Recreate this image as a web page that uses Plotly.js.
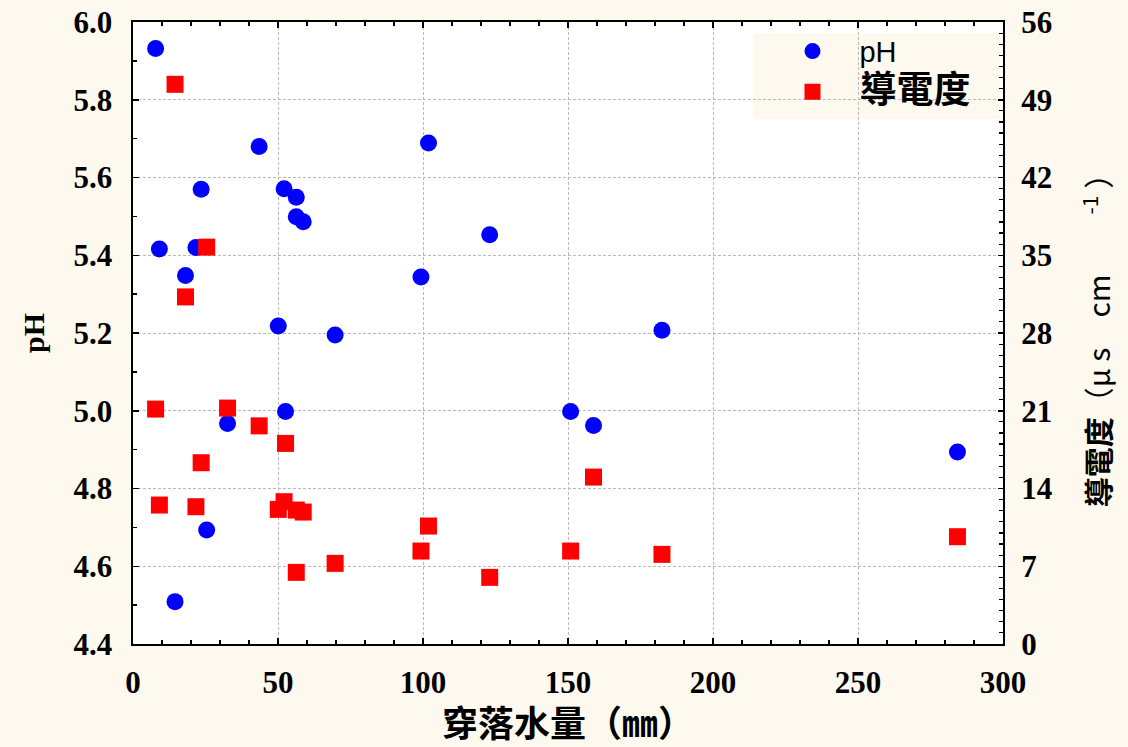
<!DOCTYPE html>
<html>
<head>
<meta charset="utf-8">
<script src="https://cdn.plot.ly/plotly-3.0.1.min.js"></script>
<style>
  html, body { margin: 0; padding: 0; background: #fdf9ef; }
  #chart { width: 1128px; height: 747px; }
</style>
</head>
<body>
<div id="chart"></div>
<script>
// Throughfall amount (mm) for each sample
const throughfall = [7.8, 9.1, 14.5, 18.1, 21.7, 23.5, 25.4, 32.6, 43.5, 50.1, 52.1, 52.6,
                     56.3, 56.3, 58.7, 69.7, 99.3, 101.9, 123.0, 150.9, 158.8, 182.4, 284.3];
// pH of each sample
const phValues = [5.932, 5.416, 4.509, 5.348, 5.420, 5.570, 4.693, 4.967, 5.680, 5.218, 5.571, 4.998,
                  5.549, 5.499, 5.486, 5.195, 5.344, 5.689, 5.453, 4.998, 4.962, 5.207, 4.894];
// Electrical conductivity (μS/cm) of each sample
const conductivity = [21.15, 12.51, 50.39, 31.25, 12.36, 16.32, 35.73, 21.24, 19.64, 12.12, 12.81, 18.06,
                      12.06, 6.45, 11.88, 7.26, 8.37, 10.62, 6.00, 8.37, 15.03, 8.07, 9.66];

const seriesNames = ['pH', '導電度'];
const xTitle = '穿落水量（㎜）';
const yTitle = 'pH';
const y2Title = '<b>導電度</b>（μ s　cm　　<sup>-1</sup> ）';

const paperBg = '#fdf9ef';
const tickFont = { family: 'Liberation Serif, Times New Roman, serif', size: 31, color: '#000', weight: 'bold' };
const cjkFont = 'Noto Sans CJK TC, Noto Sans CJK JP, sans-serif';

const traces = [
  {
    x: throughfall, y: phValues, name: seriesNames[0],
    type: 'scatter', mode: 'markers',
    marker: { symbol: 'circle', size: 17, color: '#0000ff', line: { width: 0 } },
    xaxis: 'x', yaxis: 'y'
  },
  {
    x: throughfall, y: conductivity,
    name: '<span style="font-family:Noto Sans CJK TC;font-weight:bold;font-size:37px">' + seriesNames[1] + '</span>',
    type: 'scatter', mode: 'markers',
    marker: { symbol: 'square', size: 17, color: '#ff0000', line: { width: 0 } },
    xaxis: 'x', yaxis: 'y2'
  }
];

const layout = {
  width: 1128, height: 747,
  paper_bgcolor: paperBg,
  plot_bgcolor: '#ffffff',
  margin: { l: 133, r: 125, t: 22, b: 103 },
  showlegend: true,
  legend: {
    x: 0.727, y: 0.994, xanchor: 'left', yanchor: 'top',
    bgcolor: 'rgba(0,0,0,0)', borderwidth: 0,
    font: { family: 'Liberation Sans, Arial, sans-serif', size: 29, color: '#000' },
    itemwidth: 84
  },
  // cream panel behind the legend entries
  shapes: [{
    type: 'rect', xref: 'paper', yref: 'paper',
    x0: 0.7126, x1: 0.9966, y0: 0.844, y1: 0.982,
    fillcolor: paperBg, line: { width: 0 }, layer: 'between'
  }],
  xaxis: {
    range: [0, 300], dtick: 50, tick0: 0,
    showgrid: true, gridcolor: '#b9b9b9', gridwidth: 1, griddash: '3px,2px',
    zeroline: false,
    showline: true, linecolor: '#000', linewidth: 2, mirror: 'ticks',
    ticks: 'inside', ticklen: 6, tickwidth: 1.5, tickcolor: '#000',
    minor: { dtick: 10, ticks: 'inside', ticklen: 4, tickwidth: 1.5, tickcolor: '#000', showgrid: false },
    tickfont: tickFont,
    ticklabelstandoff: 10,
    title: { text: xTitle, font: { family: cjkFont, size: 36, color: '#000', weight: 'bold' }, standoff: 16 }
  },
  yaxis: {
    range: [4.4, 6.0], dtick: 0.2, tick0: 4.4, tickformat: '.1f',
    showgrid: true, gridcolor: '#b9b9b9', gridwidth: 1, griddash: '3px,2px',
    zeroline: false,
    showline: true, linecolor: '#000', linewidth: 2.5, mirror: false,
    ticks: 'inside', ticklen: 6, tickwidth: 1.5, tickcolor: '#000',
    minor: { dtick: 0.1, ticks: 'inside', ticklen: 4, tickwidth: 1.5, tickcolor: '#000', showgrid: false },
    tickfont: tickFont,
    ticklabelstandoff: 12,
    title: { text: '<b>' + yTitle + '</b>', font: { family: 'Liberation Serif, serif', size: 30, color: '#000' }, standoff: 20 }
  },
  yaxis2: {
    range: [0, 56], dtick: 7, tick0: 0,
    overlaying: 'y', side: 'right', anchor: 'x',
    showgrid: false, zeroline: false,
    showline: true, linecolor: '#000', linewidth: 2,
    ticks: 'inside', ticklen: 5, tickwidth: 1.5, tickcolor: '#000',
    minor: { dtick: 1, ticks: 'inside', ticklen: 4, tickwidth: 1.2, tickcolor: '#000', showgrid: false },
    tickfont: tickFont,
    ticklabelstandoff: 10,
    title: { text: y2Title, font: { family: cjkFont, size: 30, color: '#000' }, standoff: 38 }
  }
};

Plotly.newPlot('chart', traces, layout, { displayModeBar: false, staticPlot: true });
</script>
</body>
</html>
